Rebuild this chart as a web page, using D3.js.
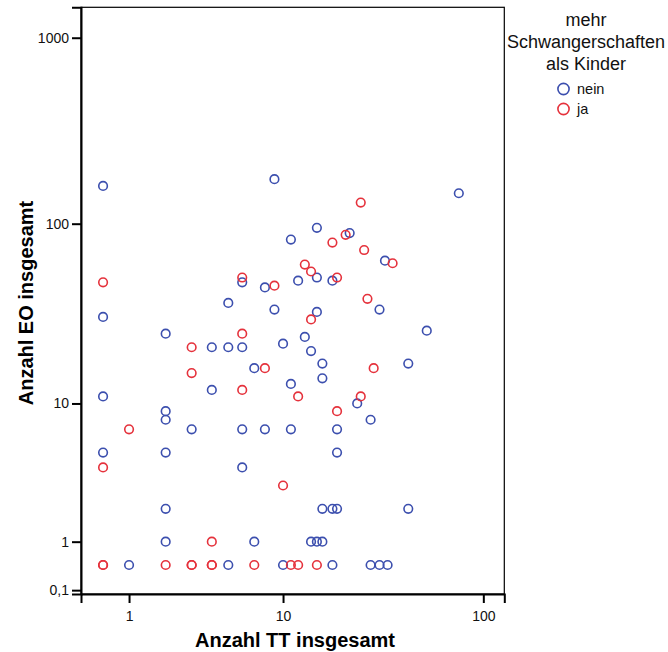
<!DOCTYPE html>
<html>
<head>
<meta charset="utf-8">
<script src="https://cdn.jsdelivr.net/npm/d3@7"></script>
<style>
  body { margin: 0; background: #fff; }
  text { font-family: Arial, 'Liberation Sans', sans-serif; }
</style>
</head>
<body>
<div id="chart"></div>
<script>
// values of 0 are drawn at 0.5 on the log(x+1) axes, as in the original
const neinTT = [0.5, 9, 11, 6, 8, 12, 5, 9, 0.5, 2, 10, 4, 5, 6, 7, 11, 4, 76, 15, 22, 33, 15, 18, 31, 15, 53, 13, 14, 16, 43, 16,
  0.5, 2, 2, 3, 6, 8, 11, 0.5, 2, 6, 2, 2, 7, 24, 28, 19, 19, 16, 18, 19, 43, 14, 15, 16, 1, 5, 10, 18, 28, 31, 34];
const neinEO = [160, 174, 82, 48, 45, 49, 37, 34, 31, 25, 22, 21, 21, 21, 16, 13, 12, 146, 95, 89, 63, 51, 49, 34, 33, 26, 24, 20, 17, 17, 14,
  11, 9, 8, 7, 7, 7, 7, 5, 5, 4, 2, 1, 1, 10, 8, 7, 5, 2, 2, 2, 2, 1, 1, 1, 0.5, 0.5, 0.5, 0.5, 0.5, 0.5, 0.5];
const jaTT = [0.5, 6, 9, 6, 3, 8, 3, 6, 25, 18, 21, 26, 36, 13, 14, 19, 27, 14, 29, 1, 0.5, 10, 4, 12, 25, 19,
  0.5, 0.5, 2, 3, 3, 4, 4, 7, 11, 12, 15];
const jaEO = [48, 51, 46, 25, 21, 16, 15, 12, 130, 79, 87, 72, 61, 60, 55, 51, 39, 30, 16, 7, 4, 3, 1, 11, 11, 9,
  0.5, 0.5, 0.5, 0.5, 0.5, 0.5, 0.5, 0.5, 0.5, 0.5, 0.5];

const yTicks = [0.1, 1, 10, 100, 1000];
const xTicks = [1, 10, 100];
const groups = ['nein', 'ja'];
const colors = ['#3c4fae', '#e5323c'];

const width = 668, height = 652;
const plotLeft = 81, plotRight = 504.3, plotTop = 7.3, plotBottom = 594;

const svg = d3.select('#chart')
  .append('svg')
  .attr('width', width)
  .attr('height', height);

const x = d3.scaleSymlog().constant(1)
  .domain([0.175, 126.4])
  .range([plotLeft, plotRight]);
const y = d3.scaleSymlog().constant(1)
  .domain([0.049, 1456])
  .range([plotBottom, plotTop]);

// frame
svg.append('rect')
  .attr('x', plotLeft).attr('y', plotTop)
  .attr('width', plotRight - plotLeft).attr('height', plotBottom - plotTop)
  .attr('fill', 'none').attr('stroke', '#000').attr('stroke-width', 1.2);

const yAxis = svg.append('g')
  .attr('transform', `translate(${plotLeft},0)`)
  .call(d3.axisLeft(y).tickValues(yTicks).tickSize(9).tickPadding(3)
    .tickFormat(d => String(d).replace('.', ',')));
const xAxis = svg.append('g')
  .attr('transform', `translate(0,${plotBottom})`)
  .call(d3.axisBottom(x).tickValues(xTicks).tickSize(9).tickPadding(8));

[yAxis, xAxis].forEach(g => {
  g.select('.domain').attr('stroke-width', 2);
  g.selectAll('.tick line').attr('stroke-width', 2);
  g.selectAll('.tick text')
    .attr('font-family', "Arial, 'Liberation Sans', sans-serif")
    .attr('font-size', 14)
    .attr('fill', '#111');
});

svg.append('text')
  .attr('transform', `translate(33,303) rotate(-90)`)
  .attr('text-anchor', 'middle')
  .attr('font-size', 20).attr('font-weight', 'bold')
  .text('Anzahl EO insgesamt');

svg.append('text')
  .attr('x', 295).attr('y', 647)
  .attr('text-anchor', 'middle')
  .attr('font-size', 20).attr('font-weight', 'bold')
  .text('Anzahl TT insgesamt');

const series = [
  { name: 'nein', tt: neinTT, eo: neinEO },
  { name: 'ja', tt: jaTT, eo: jaEO }
];

series.forEach((s, k) => {
  svg.append('g').selectAll('circle')
    .data(s.tt.map((t, i) => [t, s.eo[i]]))
    .enter()
    .append('circle')
    .attr('cx', d => x(d[0]))
    .attr('cy', d => y(d[1]))
    .attr('r', 4.3)
    .attr('fill', 'none')
    .attr('stroke', colors[k])
    .attr('stroke-width', 1.6);
});

// legend
const legend = svg.append('g');
['mehr', 'Schwangerschaften', 'als Kinder'].forEach((t, i) => {
  legend.append('text')
    .attr('x', 586).attr('y', 26 + i * 22)
    .attr('text-anchor', 'middle')
    .attr('font-size', 18)
    .attr('fill', '#111')
    .text(t);
});
groups.forEach((g, i) => {
  legend.append('circle')
    .attr('cx', 563.5).attr('cy', 89 + i * 20)
    .attr('r', 5.6)
    .attr('fill', 'none')
    .attr('stroke', colors[i])
    .attr('stroke-width', 1.6);
  legend.append('text')
    .attr('x', 577).attr('y', 94 + i * 20)
    .attr('font-size', 14.5)
    .attr('fill', '#111')
    .text(g);
});
</script>
</body>
</html>
